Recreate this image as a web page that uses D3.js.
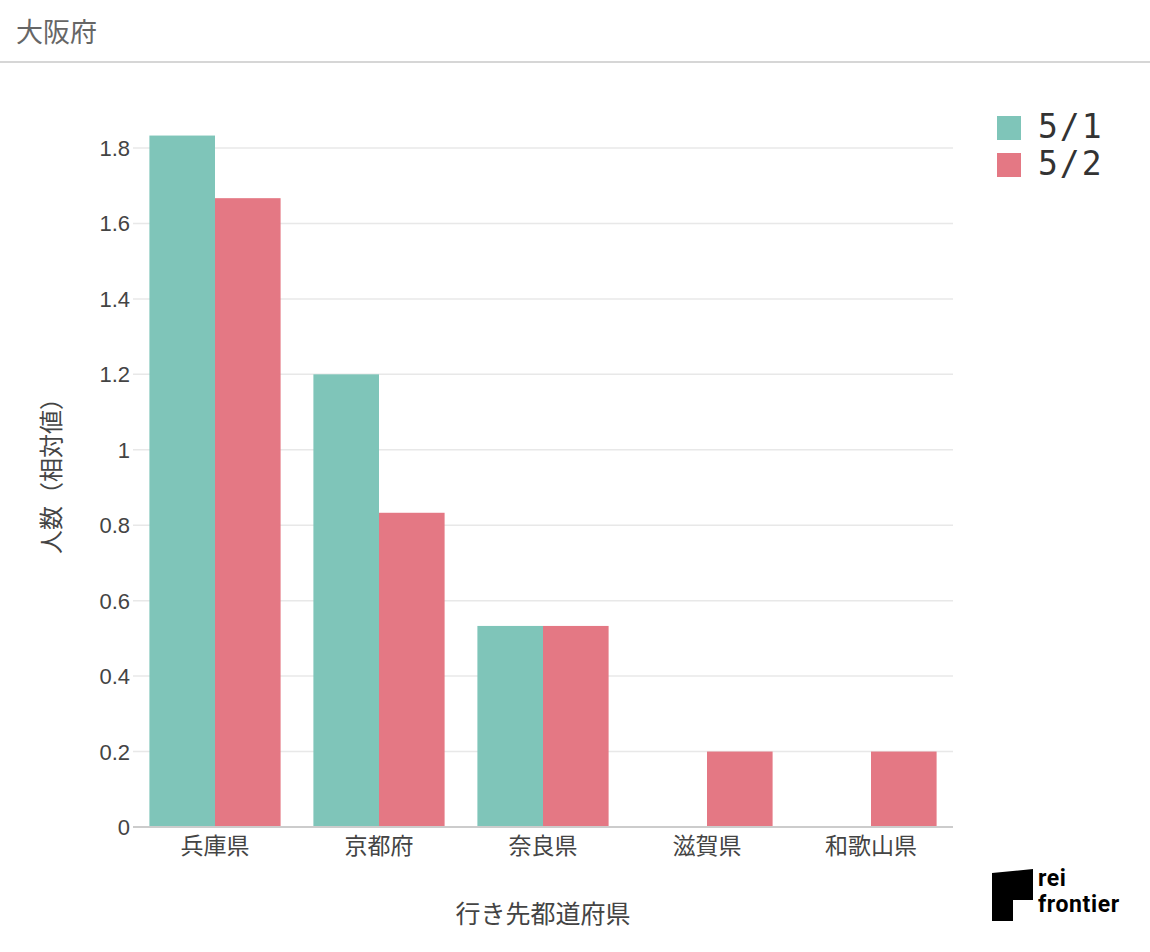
<!DOCTYPE html>
<html>
<head>
<meta charset="utf-8">
<script src="https://cdn.jsdelivr.net/npm/d3@7"></script>
<style>
  body { margin: 0; background: #fff; font-family: "Noto Sans CJK JP", Roboto, sans-serif; }
</style>
</head>
<body>
<script>
var categories = ['兵庫県', '京都府', '奈良県', '滋賀県', '和歌山県'];
var seriesNames = ['5/1', '5/2'];
var may1 = [1.833, 1.2, 0.533, 0, 0];
var may2 = [1.667, 0.833, 0.533, 0.2, 0.2];
var yTicks = [0, 0.2, 0.4, 0.6, 0.8, 1, 1.2, 1.4, 1.6, 1.8];
var colors = ['#7fc5b9', '#e47884'];

var width = 1150, height = 952;
var svg = d3.select('body').append('svg')
  .attr('width', width)
  .attr('height', height);

// header
svg.append('text')
  .attr('x', 16).attr('y', 42)
  .attr('font-size', 27).attr('fill', '#666')
  .text('大阪府');
svg.append('line')
  .attr('x1', 0).attr('x2', width)
  .attr('y1', 62).attr('y2', 62)
  .attr('stroke', '#d6d6d6').attr('stroke-width', 2);

var x0 = d3.scaleBand().domain(categories).range([133, 953])
  .paddingInner(0.2).paddingOuter(0.1);
var x1 = d3.scaleBand().domain(seriesNames).range([0, x0.bandwidth()]);
var y = d3.scaleLinear().domain([0, 1.8]).range([827, 148]);

// grid
svg.append('g').selectAll('line').data(yTicks.slice(1)).enter().append('line')
  .attr('x1', 133).attr('x2', 953)
  .attr('y1', function(d) { return y(d); })
  .attr('y2', function(d) { return y(d); })
  .attr('stroke', '#e8e8e8').attr('stroke-width', 1.5);

// y tick labels
svg.append('g').selectAll('text').data(yTicks).enter().append('text')
  .attr('x', 130)
  .attr('y', function(d) { return y(d) + 8; })
  .attr('text-anchor', 'end')
  .attr('font-family', '"Liberation Sans", Arial, sans-serif')
  .attr('font-size', 22).attr('fill', '#444')
  .text(function(d) { return d; });

// bars
var rows = categories.map(function(c, i) { return [may1[i], may2[i]]; });
var groups = svg.append('g').selectAll('g').data(rows).enter().append('g')
  .attr('transform', function(d, i) { return 'translate(' + x0(categories[i]) + ',0)'; });
groups.selectAll('rect').data(function(d) { return d; }).enter().append('rect')
  .attr('x', function(d, j) { return x1(seriesNames[j]); })
  .attr('width', x1.bandwidth())
  .attr('y', function(d) { return y(d); })
  .attr('height', function(d) { return y(0) - y(d); })
  .attr('fill', function(d, j) { return colors[j]; });

// baseline
svg.append('line')
  .attr('x1', 133).attr('x2', 953)
  .attr('y1', 827).attr('y2', 827)
  .attr('stroke', '#cccccc').attr('stroke-width', 2);

// x tick labels
svg.append('g').selectAll('text').data(categories).enter().append('text')
  .attr('x', function(d) { return x0(d) + x0.bandwidth() / 2; })
  .attr('y', 854)
  .attr('text-anchor', 'middle')
  .attr('font-size', 23).attr('fill', '#444')
  .text(function(d) { return d; });

// axis titles
svg.append('text')
  .attr('x', 543).attr('y', 923)
  .attr('text-anchor', 'middle')
  .attr('font-size', 25).attr('fill', '#444')
  .text('行き先都道府県');
svg.append('text')
  .attr('transform', 'translate(60,470) rotate(-90)')
  .attr('text-anchor', 'middle')
  .attr('font-size', 24).attr('fill', '#444')
  .text('人数（相対値）');

// legend
var legend = svg.append('g').selectAll('g').data(seriesNames).enter().append('g')
  .attr('transform', function(d, i) { return 'translate(997,' + (116 + i * 37) + ')'; });
legend.append('rect')
  .attr('width', 24).attr('height', 24)
  .attr('fill', function(d, i) { return colors[i]; });
legend.append('text')
  .attr('x', 41).attr('y', 22)
  .attr('font-family', '"DejaVu Sans Mono", monospace')
  .attr('font-size', 33).attr('fill', '#333')
  .attr('letter-spacing', 2)
  .text(function(d) { return d; });

// logo
var logo = svg.append('g');
logo.append('path')
  .attr('d', 'M992,873 L1033,869 L1033,900 L1013,900 L1013,921 L992,921 Z')
  .attr('fill', '#000');
logo.append('text')
  .attr('x', 1038).attr('y', 886)
  .attr('font-family', 'Roboto, sans-serif').attr('font-weight', 'bold')
  .attr('font-size', 23).attr('fill', '#000')
  .attr('letter-spacing', 0.6)
  .text('rei');
logo.append('text')
  .attr('x', 1038).attr('y', 912)
  .attr('font-family', 'Roboto, sans-serif').attr('font-weight', 'bold')
  .attr('font-size', 23).attr('fill', '#000')
  .attr('letter-spacing', 0.6)
  .text('frontier');
</script>
</body>
</html>
